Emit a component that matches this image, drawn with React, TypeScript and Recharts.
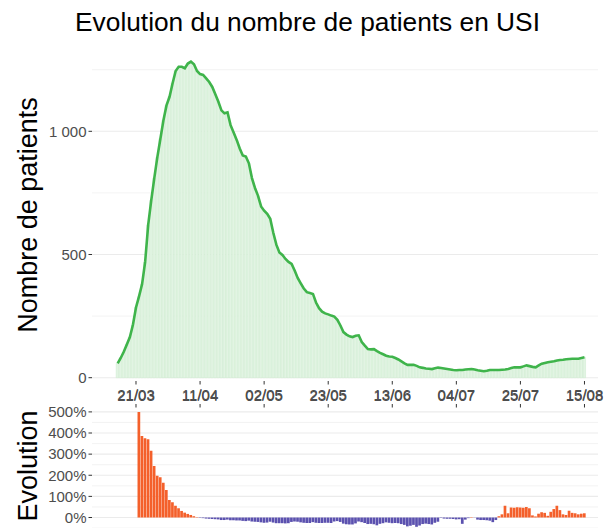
import React from 'react';
import { ComposedChart, Bar, Line, XAxis, YAxis, CartesianGrid, Cell } from 'recharts';

// Daily ICU patients from 15/03 to 15/08 (index 0 = 15/03)
const patients: number[] = [
  58, 80, 105, 135, 165, 215, 285, 330, 380, 470,
  620, 720, 810, 895, 970, 1045, 1105, 1140, 1195, 1245,
  1262, 1262, 1256, 1275, 1283, 1272, 1245, 1232, 1229, 1215,
  1200, 1180, 1150, 1120, 1085, 1073, 1077, 1025, 995, 965,
  930, 902, 898, 870, 810, 770, 738, 695, 678, 665,
  645, 588, 540, 508, 498, 482, 470, 462, 435, 405,
  383, 362, 347, 344, 340, 305, 282, 268, 261, 257,
  252, 248, 235, 212, 185, 175, 168, 165, 170, 172,
  145, 130, 116, 115, 116, 108, 101, 95, 89, 86,
  85, 80, 74, 66, 58, 52, 52, 52, 48, 42,
  40, 37, 36, 35, 38, 41, 39, 37, 35, 33,
  31, 30, 31, 31, 33, 34, 35, 33, 30, 28,
  26, 28, 31, 31, 31, 31, 32, 33, 35, 39,
  42, 42, 42, 46, 50, 47, 44, 42, 50, 57,
  60, 63, 65, 67, 70, 72, 73, 75, 76, 77,
  77, 77, 80, 83,
];

// Evolution (%) from 22/03 (index 7) to 15/08
const evolutionStartIndex = 7;
const evolution: number[] = [
  500, 386, 375, 370, 316, 244, 198, 190, 165, 130,
  83, 72, 56, 44, 31, 23, 17, 12, 6, 2,
  -2, -3, -5, -6, -7, -8, -9, -12, -12, -10,
  -13, -13, -14, -14, -16, -17, -15, -19, -20, -21,
  -23, -25, -24, -20, -24, -27, -27, -27, -28, -27,
  -21, -19, -20, -23, -25, -26, -26, -22, -25, -26,
  -26, -25, -25, -26, -19, -17, -21, -29, -32, -33,
  -33, -28, -19, -22, -26, -31, -30, -32, -37, -30,
  -27, -23, -25, -27, -26, -27, -31, -35, -42, -39,
  -35, -44, -38, -31, -29, -31, -33, -25, -20, -2,
  -5, -6, -6, -7, -9, -8, -30, -10, -3, 2,
  -1, -10, -12, -12, -13, -15, -22, -12,
  6, 15, 56, 20, 47, 46, 48, 47, 46, 50,
  44, 10, 5, 18, 25, 22, 8, 27, 40, 56,
  35, 15, 12, 32, 22, 20, 15, 18, 20,
];

const tickIndices: number[] = [6, 27, 48, 69, 90, 111, 132, 153];
const tickLabels: string[] = ['21/03', '11/04', '02/05', '23/05', '13/06', '04/07', '25/07', '15/08'];

const patientTicks: number[] = [0, 500, 1000];
const patientTickLabels: string[] = ['0', '500', '1 000'];
const patientMinorGrid: number[] = [250, 750, 1250];

const evolutionTicks: number[] = [0, 100, 200, 300, 400, 500];
const evolutionMinorGrid: number[] = [-50, 50, 150, 250, 350, 450];

const titleText = 'Evolution du nombre de patients en USI';
const topAxisTitle = 'Nombre de patients';
const bottomAxisTitle = 'Evolution';

const topData = patients.map((v, i) => ({ i, v }));
const bottomData = evolution.map((e, k) => ({ i: k + evolutionStartIndex, e }));

const X_DOMAIN: [number, number] = [-8.42, 157.43];
const FONT = '"Liberation Sans", Arial, sans-serif';
const TICK_STYLE = { fill: '#4D4D4D', fontSize: 15, fontFamily: FONT };
const GRID = '#EBEBEB';

const fmtDate = (v: number) => {
  const k = tickIndices.indexOf(v);
  return k >= 0 ? tickLabels[k] : '';
};
const fmtPatients = (v: number) => {
  const k = patientTicks.indexOf(v);
  return k >= 0 ? patientTickLabels[k] : String(v);
};

export default function App() {
  return (
    <div style={{ position: 'fixed', left: 0, top: 0, width: 608, height: 528, overflow: 'hidden', background: '#fff', fontFamily: FONT }}>
      <div style={{ position: 'absolute', left: 0, top: 0 }}>
        <ComposedChart width={608} height={420} data={topData} margin={{ top: 46, right: 10, left: 0, bottom: 0 }}>
          <CartesianGrid vertical={false} horizontalValues={patientMinorGrid} stroke={GRID} strokeWidth={0.6} />
          <CartesianGrid vertical={false} horizontalValues={patientTicks} stroke={GRID} strokeWidth={1.1} />
          <XAxis
            dataKey="i"
            type="number"
            domain={X_DOMAIN}
            allowDataOverflow
            ticks={tickIndices}
            tickFormatter={fmtDate}
            height={39}
            axisLine={false}
            tickLine={{ stroke: '#333333' }}
            tickSize={3.5}
            tickMargin={5.5}
            tick={TICK_STYLE}
            interval={0}
          />
          <YAxis
            type="number"
            domain={[-13.4, 1346.2]}
            allowDataOverflow
            ticks={patientTicks}
            tickFormatter={fmtPatients}
            width={92}
            axisLine={false}
            tickLine={{ stroke: '#333333' }}
            tickSize={3.5}
            tickMargin={2}
            tick={TICK_STYLE}
            interval={0}
          />
          <Bar dataKey="v" fill="#E2F4E3" stroke="#CBEACD" strokeWidth={0.5} barSize={2.6} isAnimationActive={false} />
          <Line dataKey="v" type="linear" stroke="#3FB44B" strokeWidth={2.6} dot={false} isAnimationActive={false} />
        </ComposedChart>
      </div>
      <div style={{ position: 'absolute', left: 0, top: 360 }}>
        <ComposedChart width={608} height={200} data={bottomData} margin={{ top: 17.5, right: 10, left: 0, bottom: 12 }}>
          <CartesianGrid vertical={false} horizontalValues={evolutionMinorGrid} stroke={GRID} strokeWidth={0.6} />
          <CartesianGrid vertical={false} horizontalValues={evolutionTicks} stroke={GRID} strokeWidth={1.1} />
          <XAxis
            dataKey="i"
            type="number"
            orientation="top"
            domain={X_DOMAIN}
            allowDataOverflow
            ticks={tickIndices}
            tickFormatter={fmtDate}
            height={30}
            axisLine={false}
            tickLine={{ stroke: '#333333' }}
            tickSize={3.5}
            tickMargin={4}
            tick={TICK_STYLE}
            interval={0}
          />
          <YAxis
            type="number"
            domain={[-144.4, 520.8]}
            allowDataOverflow
            ticks={evolutionTicks}
            tickFormatter={(v: number) => `${v}%`}
            width={92}
            axisLine={false}
            tickLine={{ stroke: '#333333' }}
            tickSize={3.5}
            tickMargin={2}
            tick={TICK_STYLE}
            interval={0}
          />
          <Bar dataKey="e" barSize={2.7} isAnimationActive={false}>
            {bottomData.map((d, k) => (
              <Cell key={k} fill={d.e >= 0 ? '#F4602B' : '#5B51AF'} />
            ))}
          </Bar>
        </ComposedChart>
      </div>
      <svg width={608} height={528} style={{ position: 'absolute', left: 0, top: 0, pointerEvents: 'none' }}>
        <text x={307.5} y={31} textAnchor="middle" fontSize={26.3} fill="#000" fontFamily={FONT}>{titleText}</text>
        <text transform="translate(36.5,215) rotate(-90)" textAnchor="middle" fontSize={27} fill="#000" fontFamily={FONT}>{topAxisTitle}</text>
        <text transform="translate(36.5,466) rotate(-90)" textAnchor="middle" fontSize={27} fill="#000" fontFamily={FONT}>{bottomAxisTitle}</text>
      </svg>
    </div>
  );
}
